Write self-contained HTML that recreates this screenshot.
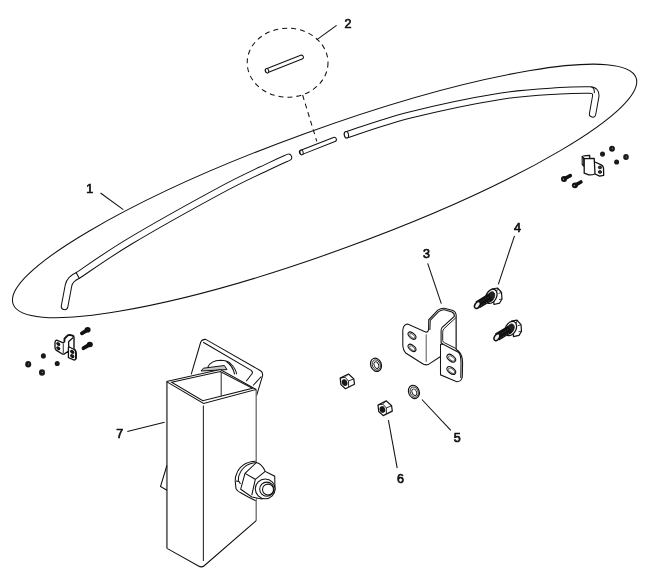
<!DOCTYPE html>
<html><head><meta charset="utf-8"><style>
html,body{margin:0;padding:0;background:#fff;}
svg{display:block;}
.ln{fill:none;stroke:#111;stroke-width:1.05;}
.lb{font-family:"Liberation Sans",sans-serif;font-weight:normal;font-size:12.5px;text-anchor:middle;fill:#111;stroke:#111;stroke-width:0.7px;}
.tg{filter:grayscale(1);}
</style></head><body>
<svg width="650" height="582" viewBox="0 0 650 582">
<ellipse cx="324.6" cy="190.9" rx="331.4" ry="60.6" transform="rotate(-19.98 324.6 190.9)" class="ln"/>
<path d="M64.6,306.3 L68.5,285.5 Q70,278.8 77.7,275.5  C86.4,269.8 106.3,255.4 130.0,241.2 C153.7,227.0 196.7,203.1 220.0,190.5 C243.3,177.9 258.6,171.3 270.0,165.8 C281.4,160.3 285.3,158.8 288.4,157.4" fill="none" stroke="#111" stroke-width="7.60" stroke-linecap="round" stroke-linejoin="round"/>
<path d="M64.6,306.3 L68.5,285.5 Q70,278.8 77.7,275.5  C86.4,269.8 106.3,255.4 130.0,241.2 C153.7,227.0 196.7,203.1 220.0,190.5 C243.3,177.9 258.6,171.3 270.0,165.8 C281.4,160.3 285.3,158.8 288.4,157.4" fill="none" stroke="#fff" stroke-width="5.60" stroke-linecap="round" stroke-linejoin="round"/>
<path d="M75.9,272.3 L79.4,278.6" class="ln"/>
<path d="M301.6,152.3 L334.2,139.5" fill="none" stroke="#111" stroke-width="5.40" stroke-linecap="round" stroke-linejoin="round"/>
<path d="M301.6,152.3 L334.2,139.5" fill="none" stroke="#fff" stroke-width="3.40" stroke-linecap="round" stroke-linejoin="round"/>
<path d="M347.5,134.5 C357.9,131.2 384.6,121.4 410.0,115.0 C435.4,108.6 475.0,100.3 500.0,96.3 C525.0,92.3 545.0,91.8 560.0,90.8 C575.0,89.8 584.8,90.1 589.8,90.0 Q596.5,90.0 595.7,96.6 L592.6,113.9" fill="none" stroke="#111" stroke-width="7.40" stroke-linecap="round" stroke-linejoin="round"/>
<path d="M347.5,134.5 C357.9,131.2 384.6,121.4 410.0,115.0 C435.4,108.6 475.0,100.3 500.0,96.3 C525.0,92.3 545.0,91.8 560.0,90.8 C575.0,89.8 584.8,90.1 589.8,90.0 Q596.5,90.0 595.7,96.6 L592.6,113.9" fill="none" stroke="#fff" stroke-width="5.40" stroke-linecap="round" stroke-linejoin="round"/>
<ellipse cx="346.4" cy="134.8" rx="2.1" ry="3.3" transform="rotate(-10 346.4 134.8)" fill="#fff" stroke="#111" stroke-width="1.05"/>
<ellipse cx="301.6" cy="152.4" rx="1.6" ry="2.5" transform="rotate(-10 301.6 152.4)" fill="#fff" stroke="#111" stroke-width="1.0"/>
<path d="M591.5,86.6 Q595.2,89.2 594.2,93.2" class="ln"/>
<ellipse cx="287.6" cy="62.7" rx="40.4" ry="34.5" class="ln" stroke-dasharray="5 4"/>
<path d="M302.6,95 L316.8,141.4" class="ln" stroke-dasharray="5 4"/>
<path d="M267.2,70.7 L301.4,57.2" fill="none" stroke="#111" stroke-width="5.00" stroke-linecap="round" stroke-linejoin="round"/>
<path d="M267.2,70.7 L301.4,57.2" fill="none" stroke="#fff" stroke-width="3.00" stroke-linecap="round" stroke-linejoin="round"/>
<ellipse cx="267.1" cy="70.8" rx="1.5" ry="2.3" transform="rotate(-20 267.1 70.8)" fill="#fff" stroke="#111" stroke-width="1.0"/>
<path d="M191.2,374.4 L200.6,342.5 Q201.8,339.2 205.8,339.4 L260.6,370.8 Q263.2,372.6 262.5,375.8 L256.5,395.8" class="ln"/>
<path d="M203.2,342.3 L251.2,370.4 Q253.2,372.2 252,373.8 L246.2,381.3" class="ln"/>
<path d="M261.3,376.5 L253.1,385.5" class="ln"/>
<path d="M207.8,367.2 Q211,360.5 220.3,360.3 Q228,360.5 231,364 Q236,369 236.6,374.3" class="ln"/>
<path d="M226.4,361.5 Q233,366 234.6,374.3" class="ln"/>
<path d="M201,371 L203.4,368.2 L224.4,365.5 L227,369.6 Z" fill="#c4c4c4" stroke="#111" stroke-width="1"/>
<path d="M166.5,381.6 L220.3,369.5 L256.2,389.5 L256.1,520.7 L204.5,565.5 Q201.7,568 198.5,566 L167,548.4 Z" fill="#fff" stroke="none"/>
<path d="M256.2,389.5 L256.2,520.7" fill="none" stroke="#6a6a6a" stroke-width="1.3"/>
<path d="M256.2,520.7 L204.5,565.5 Q201.7,568 198.5,566 L167,548.4" class="ln"/>
<path d="M166.5,381.6 L220.3,369.5 L256.2,389.5" class="ln"/>
<path d="M166.9,382 L166.9,548.6" fill="none" stroke="#6e6e6e" stroke-width="1.9"/>
<path d="M171.6,382.2 L220.3,371.6 L252.4,388.3 L202.8,400.7 Z" class="ln"/>
<path d="M166.5,381.6 L203.6,403.5 L256.2,389.5" class="ln"/>
<path d="M203.4,405.5 L203.4,561" fill="none" stroke="#333" stroke-width="1.15"/>
<path d="M221.2,372 L221.2,396.2" fill="none" stroke="#333" stroke-width="1.05"/>
<path d="M166.9,465.5 L160.5,486.5 L166.9,490.3" class="ln"/>
<path d="M255.7,461.2 Q248,461.5 243.1,465.1 Q238,469 236.7,473.8 Q235,477 235.2,480.9 L236,488.8 Q237.5,491.5 240.7,492.8 L247.8,496.7 L255.7,500.7" fill="#fff" stroke="#111" stroke-width="1.05"/>
<path d="M255.7,462.6 Q248,463.5 244,467.5 Q239.5,472 238.5,477.5 L238.3,481.5" class="ln"/>
<path d="M236,481 L239,481.5 L240.5,484" class="ln"/>
<path d="M245,473.4 L256.3,462.6 Q262,464 265.2,471.4 L274.7,476.2 L275,490 L262,499 L251.8,497 L240.7,489.2 Z" fill="#fff" stroke="#111" stroke-width="1.05"/>
<path d="M245,473.4 L255.3,479.3 L265.2,471.4 M255.3,479.3 L251.8,495.2" class="ln"/>
<circle cx="265.2" cy="488.8" r="9.9" fill="#fff" stroke="#111" stroke-width="1.05"/>
<circle cx="266.8" cy="489.2" r="7.1" class="ln"/>
<circle cx="268" cy="489.6" r="5.5" class="ln"/>
<g transform="translate(0.00 0.00) scale(1.0000 1.0000)"><path d="M402.8,344.7 L402.8,330 Q403.5,324.5 407.7,324.1 L426,332.2 Q428.5,332 428.6,329 L428.7,319.8 L437.8,310.1 Q441,308 444.3,308.2 L452.9,310.6 Q456.2,312 456.2,316 L456.2,349.4 L458.3,351 Q462.6,355 462.6,363 L462.3,377 Q461.5,381.5 456.7,381.8 L440.5,374.8 L440.5,356.5 L428.2,364.6 Q425,365.5 422.2,363.5 L406.1,353.3 Q402.8,350 402.8,344.7 Z" fill="#fff" stroke="#111" stroke-width="1.05"/><path d="M429.9,330 L430.2,320.5 L438.6,311.6 Q441.5,309.7 444.3,309.8 L452,312 Q454.8,313.5 454.3,316.5 L442.2,327.3 Q441,329 441.1,331 L441.1,340.8 Q440.5,343 443.2,344.2" fill="none" stroke="#111" stroke-width="1.05"/><path d="M440.5,344.2 L443.2,344.2 L458.3,352.2 Q461,354.5 461,363 L460.8,378" fill="none" stroke="#111" stroke-width="1.05"/><path d="M456,317.6 L443.8,328.8 Q442.7,330.2 442.7,332.5 L442.7,340.6 Q442.8,342 444.6,342.8 L456.2,348.6" fill="none" stroke="#111" stroke-width="0.95"/><path d="M426.2,334.3 L426.2,361.9 M456.2,316 L456.2,349" fill="none" stroke="#555" stroke-width="1.00"/><path d="M440.5,343.8 L440.5,357" fill="none" stroke="#111" stroke-width="1.05"/><ellipse cx="412.0" cy="335.6" rx="4.6" ry="2.6" transform="rotate(40 412.0 335.6)" fill="none" stroke="#111" stroke-width="1.05"/><ellipse cx="412.3" cy="335.9" rx="3.3" ry="1.5" transform="rotate(40 412.3 335.9)" fill="none" stroke="#111" stroke-width="0.60"/><ellipse cx="412.0" cy="347.9" rx="4.6" ry="2.6" transform="rotate(40 412.0 347.9)" fill="none" stroke="#111" stroke-width="1.05"/><ellipse cx="412.3" cy="348.2" rx="3.3" ry="1.5" transform="rotate(40 412.3 348.2)" fill="none" stroke="#111" stroke-width="0.60"/><ellipse cx="451.3" cy="358.2" rx="5.0" ry="2.9" transform="rotate(38 451.3 358.2)" fill="none" stroke="#111" stroke-width="1.05"/><ellipse cx="451.6" cy="358.5" rx="3.7" ry="1.8" transform="rotate(38 451.6 358.5)" fill="none" stroke="#111" stroke-width="0.60"/><ellipse cx="451.3" cy="370.5" rx="5.0" ry="2.9" transform="rotate(38 451.3 370.5)" fill="none" stroke="#111" stroke-width="1.05"/><ellipse cx="451.6" cy="370.8" rx="3.7" ry="1.8" transform="rotate(38 451.6 370.8)" fill="none" stroke="#111" stroke-width="0.60"/></g>
<g transform="translate(0.0 0.0)"><path d="M492,289 L497.5,288 L501.5,292.5 L502,299 L499.5,303.2 L494,304.5 Z" fill="#fff" stroke="#111" stroke-width="1.2" stroke-linejoin="round"/><path d="M497.5,288 L496.8,291.5 M501.5,292.5 L498.5,293.5 M502,299 L499,299.5" fill="none" stroke="#111" stroke-width="0.8"/><ellipse cx="491.3" cy="296.3" rx="5.2" ry="7.6" transform="rotate(28 491.3 296.3)" fill="#fff" stroke="#111" stroke-width="1.3"/><ellipse cx="490.8" cy="296.8" rx="3.4" ry="5.4" transform="rotate(28 490.8 296.8)" fill="#222" stroke="#111" stroke-width="0.8"/><path d="M477.6,304.8 L490.5,297" stroke="#111" stroke-width="8.0" stroke-linecap="butt"/><path d="M480,302.2 L489,297 M481,305.8 L489.5,300.8" stroke="#555" stroke-width="0.7" stroke-dasharray="1.3 1.6"/><ellipse cx="477.4" cy="305.0" rx="2.4" ry="3.8" transform="rotate(32 477.4 305.0)" fill="#eee" stroke="#111" stroke-width="1.5"/></g>
<g transform="translate(19.5 32.2)"><path d="M492,289 L497.5,288 L501.5,292.5 L502,299 L499.5,303.2 L494,304.5 Z" fill="#fff" stroke="#111" stroke-width="1.2" stroke-linejoin="round"/><path d="M497.5,288 L496.8,291.5 M501.5,292.5 L498.5,293.5 M502,299 L499,299.5" fill="none" stroke="#111" stroke-width="0.8"/><ellipse cx="491.3" cy="296.3" rx="5.2" ry="7.6" transform="rotate(28 491.3 296.3)" fill="#fff" stroke="#111" stroke-width="1.3"/><ellipse cx="490.8" cy="296.8" rx="3.4" ry="5.4" transform="rotate(28 490.8 296.8)" fill="#222" stroke="#111" stroke-width="0.8"/><path d="M477.6,304.8 L490.5,297" stroke="#111" stroke-width="8.0" stroke-linecap="butt"/><path d="M480,302.2 L489,297 M481,305.8 L489.5,300.8" stroke="#555" stroke-width="0.7" stroke-dasharray="1.3 1.6"/><ellipse cx="477.4" cy="305.0" rx="2.4" ry="3.8" transform="rotate(32 477.4 305.0)" fill="#eee" stroke="#111" stroke-width="1.5"/></g>
<ellipse cx="376.0" cy="364.8" rx="5.3" ry="6.8" transform="rotate(-22 376.0 364.8)" fill="#fff" stroke="#111" stroke-width="1.2"/>
<ellipse cx="376.3" cy="365.0" rx="3.9" ry="5.3" transform="rotate(-22 376.3 365.0)" fill="none" stroke="#111" stroke-width="0.8"/>
<ellipse cx="376.4" cy="365.1" rx="2.2" ry="3.4" transform="rotate(-22 376.4 365.1)" fill="none" stroke="#111" stroke-width="0.9"/>
<ellipse cx="413.9" cy="391.9" rx="5.3" ry="6.8" transform="rotate(-22 413.9 391.9)" fill="#fff" stroke="#111" stroke-width="1.2"/>
<ellipse cx="414.2" cy="392.1" rx="3.9" ry="5.3" transform="rotate(-22 414.2 392.1)" fill="none" stroke="#111" stroke-width="0.8"/>
<ellipse cx="414.3" cy="392.2" rx="2.2" ry="3.4" transform="rotate(-22 414.3 392.2)" fill="none" stroke="#111" stroke-width="0.9"/>
<g transform="translate(0.0 0.0)"><path d="M340.2,378.1 L348.5,374 L353.8,378.9 L354.5,384.2 L345.4,388.7 L340.9,384.6 Z" fill="#fff" stroke="#111" stroke-width="1.2" stroke-linejoin="round"/><path d="M340.2,378.1 L345.1,377.3 L348.5,381 L353.8,378.9 M348.5,381 L348.6,386.9" fill="none" stroke="#111" stroke-width="0.9"/><path d="M345.1,377.3 L348.5,374" fill="none" stroke="#111" stroke-width="0.6"/><ellipse cx="344.6" cy="382.6" rx="2.8" ry="3.4" transform="rotate(-15 344.6 382.6)" fill="#1a1a1a"/></g>
<g transform="translate(37.8 26.9)"><path d="M340.2,378.1 L348.5,374 L353.8,378.9 L354.5,384.2 L345.4,388.7 L340.9,384.6 Z" fill="#fff" stroke="#111" stroke-width="1.2" stroke-linejoin="round"/><path d="M340.2,378.1 L345.1,377.3 L348.5,381 L353.8,378.9 M348.5,381 L348.6,386.9" fill="none" stroke="#111" stroke-width="0.9"/><path d="M345.1,377.3 L348.5,374" fill="none" stroke="#111" stroke-width="0.6"/><ellipse cx="344.6" cy="382.6" rx="2.8" ry="3.4" transform="rotate(-15 344.6 382.6)" fill="#1a1a1a"/></g>
<path d="M584.2,159 L582.2,156.6 Q583,155.6 589.6,155.4 L589.8,158.2" fill="none" stroke="#111" stroke-width="1.3"/>
<path d="M582.2,156.8 L582.2,164.5 L584.2,166.5 M583.8,157.5 L583.8,165" fill="none" stroke="#111" stroke-width="1.1"/>
<path d="M595,162 L601.3,164.9 Q603.3,166 603.5,168 L603.7,175.3 L599.6,176.1 L595,174" fill="#fff" stroke="#111" stroke-width="1.3" stroke-linejoin="round"/>
<path d="M584.2,158.7 L594.2,158.3 L595,174 Q592,175.2 588.8,174.9 L584.2,173.2 Z" fill="#fff" stroke="#111" stroke-width="1.3" stroke-linejoin="round"/>
<ellipse cx="600.0" cy="167.4" rx="1.7" ry="1.4" fill="#333" stroke="#111" stroke-width="0.8"/>
<ellipse cx="600.0" cy="172.0" rx="1.7" ry="1.4" fill="#333" stroke="#111" stroke-width="0.8"/>
<ellipse cx="602.5" cy="154.1" rx="2.5" ry="2.6" fill="#1a1a1a"/>
<ellipse cx="612.0" cy="148.7" rx="2.9" ry="3.0" fill="#1a1a1a"/>
<circle cx="612.4" cy="148.5" r="0.6" fill="#999"/>
<ellipse cx="616.6" cy="162.0" rx="2.5" ry="2.6" fill="#1a1a1a"/>
<ellipse cx="626.0" cy="157.0" rx="2.8" ry="2.9" fill="#1a1a1a"/>
<circle cx="626.4" cy="156.8" r="0.6" fill="#999"/>
<path d="M564.0,179.0 L570.3,175.6" stroke="#111" stroke-width="3.6" stroke-linecap="round"/>
<ellipse cx="564.0" cy="179.0" rx="3" ry="2.9" fill="#111"/>
<circle cx="563.4" cy="179.2" r="0.7" fill="#999"/>
<path d="M574.9,185.3 L580.9,182.0" stroke="#111" stroke-width="3.6" stroke-linecap="round"/>
<ellipse cx="574.9" cy="185.3" rx="3" ry="2.9" fill="#111"/>
<circle cx="574.3" cy="185.5" r="0.7" fill="#999"/>
<g transform="translate(-88.40 228.27) scale(0.3560 0.3450)"><path d="M402.8,344.7 L402.8,330 Q403.5,324.5 407.7,324.1 L426,332.2 Q428.5,332 428.6,329 L428.7,319.8 L437.8,310.1 Q441,308 444.3,308.2 L452.9,310.6 Q456.2,312 456.2,316 L456.2,349.4 L458.3,351 Q462.6,355 462.6,363 L462.3,377 Q461.5,381.5 456.7,381.8 L440.5,374.8 L440.5,356.5 L428.2,364.6 Q425,365.5 422.2,363.5 L406.1,353.3 Q402.8,350 402.8,344.7 Z" fill="#fff" stroke="#111" stroke-width="3.71"/><path d="M429.9,330 L430.2,320.5 L438.6,311.6 Q441.5,309.7 444.3,309.8 L452,312 Q454.8,313.5 454.3,316.5 L442.2,327.3 Q441,329 441.1,331 L441.1,340.8 Q440.5,343 443.2,344.2" fill="none" stroke="#111" stroke-width="3.71"/><path d="M440.5,344.2 L443.2,344.2 L458.3,352.2 Q461,354.5 461,363 L460.8,378" fill="none" stroke="#111" stroke-width="3.71"/><path d="M426.2,334.3 L426.2,361.9 M456.2,316 L456.2,349" fill="none" stroke="#555" stroke-width="3.52"/><path d="M440.5,343.8 L440.5,357" fill="none" stroke="#111" stroke-width="3.71"/><ellipse cx="412.0" cy="335.6" rx="4.6" ry="2.6" transform="rotate(40 412.0 335.6)" fill="#222" stroke="#111" stroke-width="3.71"/><ellipse cx="412.0" cy="347.9" rx="4.6" ry="2.6" transform="rotate(40 412.0 347.9)" fill="#222" stroke="#111" stroke-width="3.71"/><ellipse cx="451.3" cy="358.2" rx="5.0" ry="2.9" transform="rotate(38 451.3 358.2)" fill="#222" stroke="#111" stroke-width="3.71"/><ellipse cx="451.3" cy="370.5" rx="5.0" ry="2.9" transform="rotate(38 451.3 370.5)" fill="#222" stroke="#111" stroke-width="3.71"/></g>
<ellipse cx="43.4" cy="355.9" rx="2.5" ry="2.6" fill="#1a1a1a"/>
<ellipse cx="28.2" cy="364.2" rx="3.0" ry="3.2" fill="#1a1a1a"/>
<circle cx="28.6" cy="364.0" r="0.6" fill="#999"/>
<ellipse cx="57.2" cy="363.5" rx="2.5" ry="2.6" fill="#1a1a1a"/>
<ellipse cx="42.0" cy="372.5" rx="3.0" ry="3.2" fill="#1a1a1a"/>
<circle cx="42.4" cy="372.3" r="0.6" fill="#999"/>
<path d="M87.6,329.8 L81.9,333.3" stroke="#111" stroke-width="3.8" stroke-linecap="round"/>
<ellipse cx="87.6" cy="329.8" rx="3.0" ry="2.8" fill="#111"/>
<path d="M89.8,344.5 L83.5,348.2" stroke="#111" stroke-width="3.8" stroke-linecap="round"/>
<ellipse cx="89.8" cy="344.5" rx="3.0" ry="2.8" fill="#111"/>
<path d="M100.5,193.0 L123.3,209.6" class="ln"/>
<path d="M316.6,39.9 L336.6,25.4" class="ln"/>
<path d="M427.7,263.4 L441.3,303.7" class="ln"/>
<path d="M514.5,235.8 L498.3,284.3" class="ln"/>
<path d="M421.9,399.5 L450.8,430.4" class="ln"/>
<path d="M388.4,420.1 L397.2,468.2" class="ln"/>
<path d="M127.3,431.6 L164.6,422.2" class="ln"/>
<g class="tg" transform="translate(0.01 0)"><text x="89.8" y="192.8" class="lb">1</text></g>
<g class="tg" transform="translate(0.01 0)"><text x="348.1" y="28.3" class="lb">2</text></g>
<g class="tg" transform="translate(0.01 0)"><text x="426.6" y="257.8" class="lb">3</text></g>
<g class="tg" transform="translate(0.01 0)"><text x="517.4" y="232.2" class="lb">4</text></g>
<g class="tg" transform="translate(0.01 0)"><text x="457.2" y="442.4" class="lb">5</text></g>
<g class="tg" transform="translate(0.01 0)"><text x="400.4" y="482.8" class="lb">6</text></g>
<g class="tg" transform="translate(0.01 0)"><text x="119.8" y="438.2" class="lb">7</text></g>
</svg></body></html>
